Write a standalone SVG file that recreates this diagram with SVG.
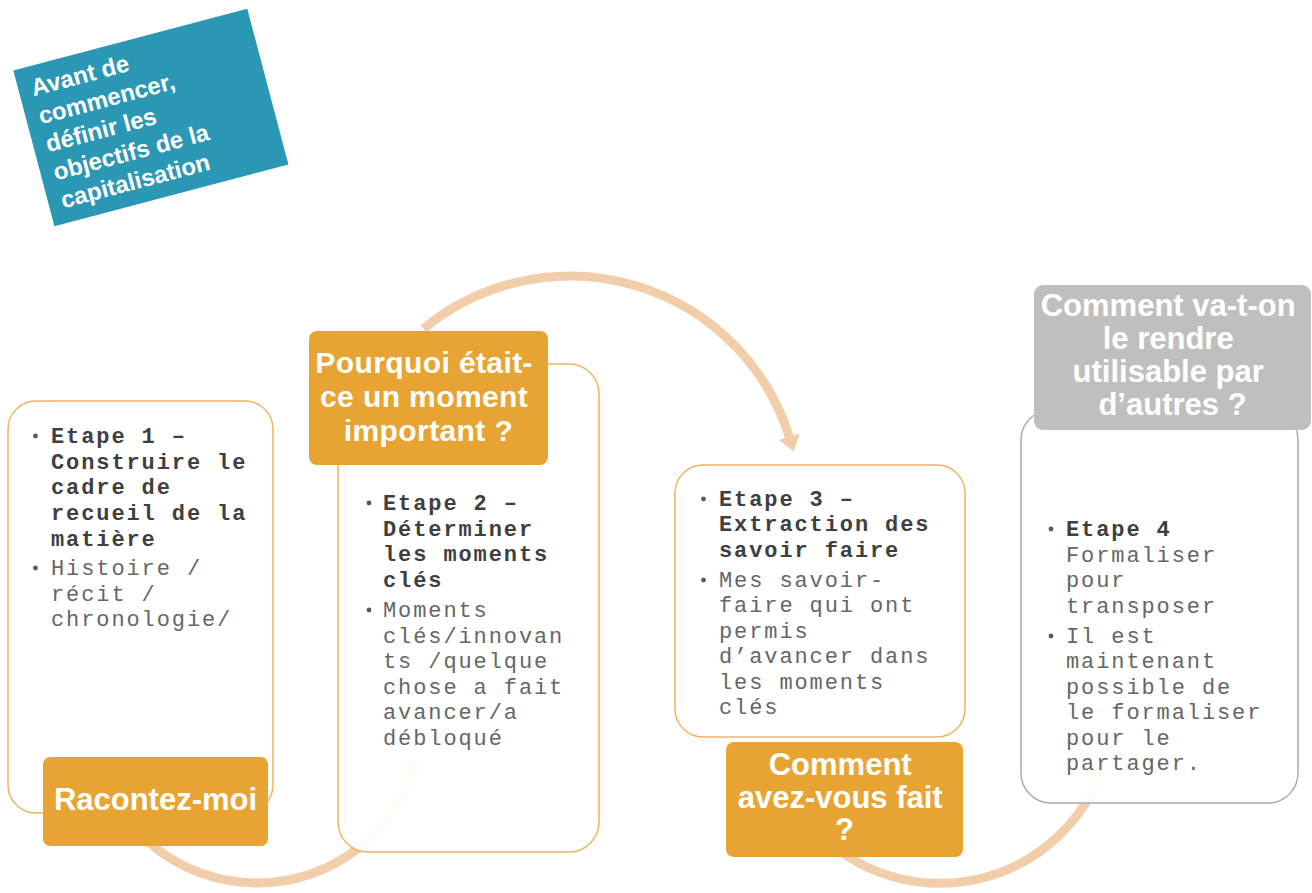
<svg xmlns="http://www.w3.org/2000/svg" width="1312" height="893" viewBox="0 0 1312 893">
  <style>
    .arc { fill: none; stroke: #F2CDAA; stroke-width: 9; }
    .head { fill: #F2CDAA; }
    .card { fill: #FFFFFF; fill-opacity: 0.92; stroke: #F0B461; stroke-width: 1.5; }
    .card-grey { fill: #FFFFFF; fill-opacity: 0.92; stroke: #ABABAB; stroke-width: 1.5; }
    .tag { fill: #E8A433; }
    .tag-grey { fill: #BFBFBF; }
    .tag-text { font-family: "Liberation Sans", Arial, sans-serif; font-weight: bold; font-size: 31px; fill: #FFFFFF; text-anchor: middle; }
    .tag-text.tight { font-size: 30px; letter-spacing: 0.4px; }
    .intro-text { font-family: "Liberation Sans", Arial, sans-serif; font-weight: bold; font-size: 24px; fill: #FFFFFF; }
    .body { font-family: "Liberation Mono", "Courier New", monospace; font-size: 22px; letter-spacing: 1.9px; }
    .strong { font-weight: bold; fill: #3F3F3F; }
    .plain { fill: #666666; }
    .dot { fill: #595959; }
  </style>

  <!-- tilted intro note -->
  <g id="intro" transform="translate(151,118) rotate(-14.8)">
    <rect x="-121" y="-81" width="242" height="161" fill="#2A97B5"/>
    <text class="intro-text">
      <tspan x="-108" y="-51">Avant de</tspan>
      <tspan x="-108" y="-22">commencer,</tspan>
      <tspan x="-108" y="7">définir les</tspan>
      <tspan x="-108" y="36">objectifs de la</tspan>
      <tspan x="-108" y="65">capitalisation</tspan>
    </text>
  </g>

  <!-- circular arrows linking the steps (drawn under the cards) -->
  <g id="connectors">
    <path class="arc" d="M 131.4 824.4 A 164 164 0 0 0 412.1 772.4"/>
    <polygon class="head" points="417,757.5 422.5,776 401.7,768.8"/>
    <path class="arc" d="M 423.4 328.8 A 230 230 0 0 1 789.3 436.8"/>
    <polygon class="head" points="793.8,451.5 799.8,433.5 778.8,440.1"/>
    <path class="arc" d="M 826 840 A 172 172 0 0 0 1101 772"/>
    <polygon class="head" points="1106,757 1111,776 1090,769"/>
  </g>

  <!-- step 1 -->
  <g id="step1">
    <rect class="card" x="8" y="401" width="265" height="412" rx="28"/>
    <circle class="dot" cx="35.5" cy="436" r="2.4"/>
    <circle class="dot" cx="35.5" cy="568" r="2.4"/>
    <text class="body strong">
      <tspan x="51" y="443">Etape 1 –</tspan>
      <tspan x="51" y="469">Construire le</tspan>
      <tspan x="51" y="494">cadre de</tspan>
      <tspan x="51" y="520">recueil de la</tspan>
      <tspan x="51" y="546">matière</tspan>
    </text>
    <text class="body plain">
      <tspan x="51" y="575">Histoire /</tspan>
      <tspan x="51" y="601">récit /</tspan>
      <tspan x="51" y="626">chronologie/</tspan>
    </text>
    <rect class="tag" x="43" y="757" width="225" height="89" rx="7"/>
    <text class="tag-text" x="155.5" y="810">Racontez-moi</text>
  </g>

  <!-- step 2 -->
  <g id="step2">
    <rect class="card" x="338" y="364" width="261" height="488" rx="30"/>
    <circle class="dot" cx="369" cy="503" r="2.4"/>
    <circle class="dot" cx="369" cy="610" r="2.4"/>
    <text class="body strong">
      <tspan x="383" y="510">Etape 2 –</tspan>
      <tspan x="383" y="536">Déterminer</tspan>
      <tspan x="383" y="561">les moments</tspan>
      <tspan x="383" y="587">clés</tspan>
    </text>
    <text class="body plain">
      <tspan x="383" y="617">Moments</tspan>
      <tspan x="383" y="643">clés/innovan</tspan>
      <tspan x="383" y="668">ts /quelque</tspan>
      <tspan x="383" y="694">chose a fait</tspan>
      <tspan x="383" y="719">avancer/a</tspan>
      <tspan x="383" y="745">débloqué</tspan>
    </text>
    <rect class="tag" x="309" y="331" width="239" height="134" rx="8"/>
    <text class="tag-text tight">
      <tspan x="428.5" y="373">Pourquoi était-</tspan>
      <tspan x="428.5" y="407">ce un moment</tspan>
      <tspan x="428.5" y="441">important ?</tspan>
    </text>
  </g>

  <!-- step 3 -->
  <g id="step3">
    <rect class="card" x="675" y="465" width="290" height="272" rx="28"/>
    <circle class="dot" cx="703.5" cy="499" r="2.4"/>
    <circle class="dot" cx="703.5" cy="580" r="2.4"/>
    <text class="body strong">
      <tspan x="719" y="506">Etape 3 –</tspan>
      <tspan x="719" y="531">Extraction des</tspan>
      <tspan x="719" y="557">savoir faire</tspan>
    </text>
    <text class="body plain">
      <tspan x="719" y="587">Mes savoir-</tspan>
      <tspan x="719" y="612">faire qui ont</tspan>
      <tspan x="719" y="638">permis</tspan>
      <tspan x="719" y="663">d’avancer dans</tspan>
      <tspan x="719" y="689">les moments</tspan>
      <tspan x="719" y="714">clés</tspan>
    </text>
    <rect class="tag" x="726" y="742" width="237" height="115" rx="8"/>
    <text class="tag-text">
      <tspan x="844.5" y="775">Comment</tspan>
      <tspan x="844.5" y="808">avez-vous fait</tspan>
      <tspan x="844.5" y="840">?</tspan>
    </text>
  </g>

  <!-- step 4 -->
  <g id="step4">
    <rect class="card-grey" x="1021" y="410" width="277" height="393" rx="30"/>
    <circle class="dot" cx="1051" cy="529" r="2.4"/>
    <circle class="dot" cx="1051" cy="636" r="2.4"/>
    <text class="body strong" x="1066" y="536">Etape 4</text>
    <text class="body plain">
      <tspan x="1066" y="562">Formaliser</tspan>
      <tspan x="1066" y="587">pour</tspan>
      <tspan x="1066" y="613">transposer</tspan>
      <tspan x="1066" y="643">Il est</tspan>
      <tspan x="1066" y="668">maintenant</tspan>
      <tspan x="1066" y="694">possible de</tspan>
      <tspan x="1066" y="719">le formaliser</tspan>
      <tspan x="1066" y="745">pour le</tspan>
      <tspan x="1066" y="770">partager.</tspan>
    </text>
    <rect class="tag-grey" x="1034" y="285" width="277" height="145" rx="9"/>
    <text class="tag-text">
      <tspan x="1172.5" y="316">Comment va-t-on</tspan>
      <tspan x="1172.5" y="349">le rendre</tspan>
      <tspan x="1172.5" y="382">utilisable par</tspan>
      <tspan x="1172.5" y="415">d’autres ?</tspan>
    </text>
  </g>
</svg>
